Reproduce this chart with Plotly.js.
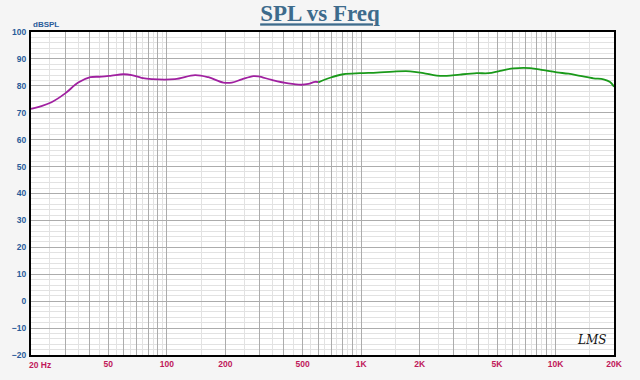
<!DOCTYPE html>
<html>
<head>
<meta charset="utf-8">
<script src="https://cdn.plot.ly/plotly-3.0.1.min.js"></script>
<style>html,body{margin:0;padding:0;background:#f5f5f5;}#chart{width:640px;height:380px;}</style>
</head>
<body>
<div id="chart"></div>
<script>
// Low-frequency segment (purple)
const lowFreq = [20, 22.2, 25.5, 30, 35, 40.4, 46.2, 52, 59.7, 66, 74, 83.6, 110, 139.7, 163.6, 195.5, 216, 243, 279, 296, 347, 422, 494, 535, 579, 602];
const lowSpl  = [71.4, 72.3, 73.9, 77.2, 81.2, 83.2, 83.4, 83.8, 84.3, 84.0, 83.0, 82.5, 82.5, 84.0, 83.2, 81.2, 81.2, 82.4, 83.6, 83.5, 82.2, 80.9, 80.4, 80.7, 81.5, 81.4];
// High-frequency segment (green)
const highFreq = [602, 692, 810, 987, 1203, 1465, 1786, 2090, 2449, 2756, 3226, 3935, 4517, 5190, 6075, 7400, 8670, 10160, 11650, 13390, 15680, 17660, 19100, 20000];
const highSpl  = [81.3, 83.0, 84.3, 84.7, 84.9, 85.3, 85.4, 84.7, 83.8, 83.7, 84.2, 84.7, 84.7, 85.6, 86.5, 86.6, 85.8, 85.0, 84.5, 83.7, 82.8, 82.4, 81.4, 79.7];

// Axis ticks / grid
const majorGrid = [20,30,40,50,60,70,80,90,100,200,300,400,500,600,700,800,900,1000,2000,3000,4000,5000,6000,7000,8000,9000,10000,20000];
const labelled = {50:'50',100:'100',200:'200',500:'500',1000:'1K',2000:'2K',5000:'5K',10000:'10K',20000:'20K'};
const majorText = majorGrid.map(v => labelled[v] || '');
const minorGrid = [25,35,45,55,65,75,85,95,150,250,350,450,550,650,750,850,950,1500,2500,3500,4500,5500,6500,7500,8500,9500,15000];
const firstLabel = '20 Hz';
const yUnit = 'dBSPL';

const traces = [
  {x: lowFreq, y: lowSpl, mode: 'lines', line: {color: '#a020a0', width: 1.8, shape: 'spline'}, hoverinfo: 'skip'},
  {x: highFreq, y: highSpl, mode: 'lines', line: {color: '#1a9a1a', width: 1.8, shape: 'spline'}, hoverinfo: 'skip'}
];

const layout = {
  width: 640, height: 380,
  paper_bgcolor: '#f5f5f5', plot_bgcolor: '#ffffff',
  margin: {l: 31, r: 26, t: 32, b: 25},
  showlegend: false,
  title: {
    text: '<span style="text-decoration:underline">SPL vs Freq</span>',
    font: {family: 'Liberation Serif', size: 23, color: '#3d6b8c', weight: 'bold'},
    x: 0.5, xanchor: 'center', y: 0.965, yanchor: 'middle'
  },
  xaxis: {
    type: 'log', range: [Math.log10(20), Math.log10(20000)],
    tickmode: 'array', tickvals: majorGrid, ticktext: majorText,
    showgrid: true, gridcolor: '#acacac', gridwidth: 1,
    minor: {tickmode: 'array', tickvals: minorGrid, showgrid: true, gridcolor: '#e2e2e2', gridwidth: 1},
    showline: true, mirror: true, linecolor: '#000', linewidth: 2,
    ticks: '', zeroline: false,
    tickfont: {family: 'Liberation Sans', size: 8.5, color: '#c0185a', weight: 'bold'}
  },
  yaxis: {
    range: [-20, 100], dtick: 10, tick0: 0,
    showgrid: true, gridcolor: '#acacac', gridwidth: 1,
    minor: {dtick: 2, showgrid: true, gridcolor: '#e2e2e2', gridwidth: 1},
    showline: true, mirror: true, linecolor: '#000', linewidth: 2,
    ticks: '', zeroline: false, ticklabelstandoff: 1,
    tickfont: {family: 'Liberation Sans', size: 8.5, color: '#2a5c9a', weight: 'bold'}
  },
  annotations: [
    {text: firstLabel, xref: 'x', x: Math.log10(majorGrid[0]), xanchor: 'left', xshift: -4,
     yref: 'paper', y: 0, yanchor: 'top', yshift: -3, showarrow: false,
     font: {family: 'Liberation Sans', size: 8.5, color: '#c0185a', weight: 'bold'}},
    {text: yUnit, xref: 'paper', x: 0, xanchor: 'left', yref: 'paper', y: 1, yanchor: 'bottom', yshift: 1, showarrow: false,
     font: {family: 'Liberation Sans', size: 8, color: '#2a5c9a', weight: 'bold'}},
    {text: 'LMS', xref: 'paper', x: 0.99, xanchor: 'right', yref: 'paper', y: 0.02, yanchor: 'bottom', showarrow: false,
     font: {family: 'DejaVu Serif', size: 12, color: '#111', style: 'italic'}}
  ]
};

Plotly.newPlot('chart', traces, layout, {staticPlot: true, displayModeBar: false});
</script>
</body>
</html>
